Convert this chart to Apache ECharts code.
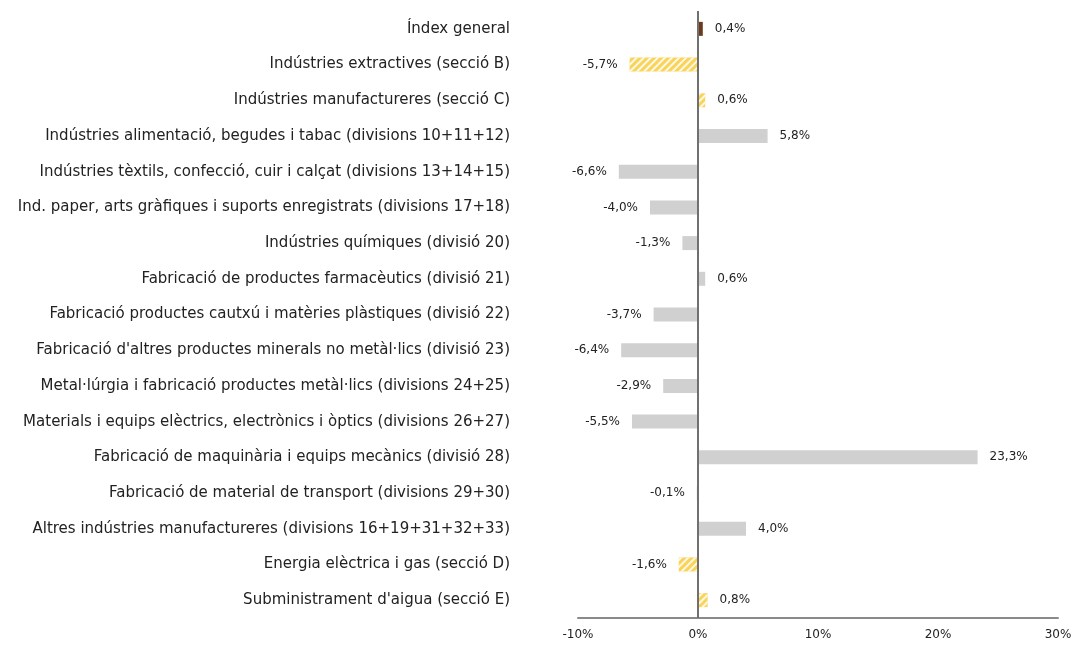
<!DOCTYPE html>
<html>
<head>
<meta charset="utf-8">
<script src="https://cdn.jsdelivr.net/npm/echarts@6/dist/echarts.min.js"></script>
<style>
  html, body { margin: 0; padding: 0; background: #fff; }
  #main { width: 1077px; height: 645px; }
</style>
</head>
<body>
<div id="main"></div>
<script>
// categories (top to bottom)
var categories = [
  'Índex general',
  'Indústries extractives (secció B)',
  'Indústries manufactureres (secció C)',
  'Indústries alimentació, begudes i tabac (divisions 10+11+12)',
  'Indústries tèxtils, confecció, cuir i calçat (divisions 13+14+15)',
  'Ind. paper, arts gràfiques i suports enregistrats (divisions 17+18)',
  'Indústries químiques (divisió 20)',
  'Fabricació de productes farmacèutics (divisió 21)',
  'Fabricació productes cautxú i matèries plàstiques (divisió 22)',
  "Fabricació d'altres productes minerals no metàl·lics (divisió 23)",
  'Metal·lúrgia i fabricació productes metàl·lics (divisions 24+25)',
  'Materials i equips elèctrics, electrònics i òptics (divisions 26+27)',
  'Fabricació de maquinària i equips mecànics (divisió 28)',
  'Fabricació de material de transport (divisions 29+30)',
  'Altres indústries manufactureres (divisions 16+19+31+32+33)',
  'Energia elèctrica i gas (secció D)',
  "Subministrament d'aigua (secció E)"
];

// variació (%)
var values = [0.4, -5.7, 0.6, 5.8, -6.6, -4.0, -1.3, 0.6, -3.7, -6.4, -2.9, -5.5, 23.3, -0.1, 4.0, -1.6, 0.8];

// tipus de barra: general, secció, divisió
var kinds = ['general', 'seccio', 'seccio', 'divisio', 'divisio', 'divisio', 'divisio', 'divisio', 'divisio',
  'divisio', 'divisio', 'divisio', 'divisio', 'divisio', 'divisio', 'seccio', 'seccio'];

var chart = echarts.init(document.getElementById('main'));

var hatch = {
  symbol: 'rect',
  color: 'rgba(255,255,255,0.85)',
  dashArrayX: [1, 0],
  dashArrayY: [2, 3],
  rotation: -Math.PI / 4,
  symbolSize: 1
};

function fmt(v) {
  return v.toFixed(1).replace('.', ',') + '%';
}

var data = values.map(function (v, i) {
  var item = {
    value: v,
    label: { position: v < 0 ? 'left' : 'right' }
  };
  if (kinds[i] === 'general') {
    item.itemStyle = { color: '#6b3a1f' };
  } else if (kinds[i] === 'seccio') {
    item.itemStyle = { color: '#f9d35a', decal: hatch };
  } else {
    item.itemStyle = { color: '#d0d0d0' };
  }
  return item;
});

var option = {
  backgroundColor: '#fff',
  animation: false,
  grid: { left: 578, right: 19, top: 11, bottom: 27 },
  xAxis: {
    type: 'value',
    min: -10,
    max: 30,
    interval: 10,
    axisLine: { show: true, lineStyle: { color: '#8a8a8a', width: 2 } },
    axisTick: { show: false },
    splitLine: { show: false },
    axisLabel: {
      formatter: '{value}%',
      color: '#222',
      fontFamily: 'DejaVu Sans',
      fontSize: 12,
      margin: 11
    }
  },
  yAxis: {
    type: 'category',
    inverse: true,
    data: categories,
    axisLine: { show: false },
    axisTick: { show: false },
    axisLabel: {
      color: '#222',
      fontFamily: 'DejaVu Sans',
      fontSize: 15,
      margin: 68
    }
  },
  series: [{
    type: 'bar',
    barWidth: 14,
    data: data,
    label: {
      show: true,
      distance: 12,
      color: '#222',
      fontFamily: 'DejaVu Sans',
      fontSize: 12,
      formatter: function (p) { return fmt(p.value); }
    },
    markLine: {
      silent: true,
      symbol: 'none',
      label: { show: false },
      lineStyle: { color: '#707070', type: 'solid', width: 2 },
      data: [{ xAxis: 0 }]
    }
  }]
};

chart.setOption(option);
</script>
</body>
</html>
